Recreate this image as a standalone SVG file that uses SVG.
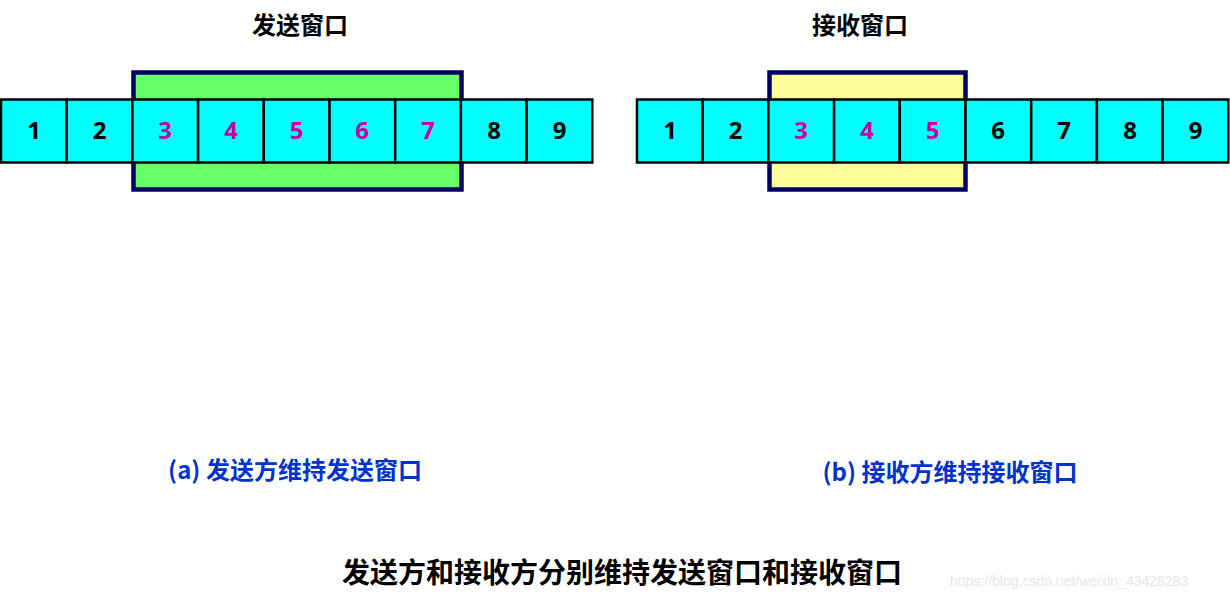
<svg xmlns="http://www.w3.org/2000/svg" width="1230" height="599" viewBox="0 0 1230 599">
<style>
.cell{fill:#00ffff;stroke:#000;stroke-width:2.5}
.win{stroke:#000066;stroke-width:4.5}
.n{font-family:"Open Sans","Noto Sans",sans-serif;font-weight:bold;font-size:24px;text-anchor:middle}
.k{fill:#000}.m{fill:#cc0099}
.t{font-family:"Noto Sans CJK SC",sans-serif;font-weight:bold;text-anchor:middle}
</style>
<rect width="1230" height="599" fill="#fff"/>
<g id="sendWindow"><rect class="win" x="133.5" y="72.5" width="328" height="117" fill="#66ff66"/></g>
<g id="recvWindow"><rect class="win" x="769.5" y="72.5" width="196" height="117" fill="#ffff99"/></g>
<g id="sendCells">
<rect class="cell" x="1" y="99.5" width="65.7" height="63"/>
<rect class="cell" x="66.7" y="99.5" width="65.7" height="63"/>
<rect class="cell" x="132.4" y="99.5" width="65.7" height="63"/>
<rect class="cell" x="198.1" y="99.5" width="65.7" height="63"/>
<rect class="cell" x="263.8" y="99.5" width="65.7" height="63"/>
<rect class="cell" x="329.5" y="99.5" width="65.7" height="63"/>
<rect class="cell" x="395.2" y="99.5" width="65.7" height="63"/>
<rect class="cell" x="460.9" y="99.5" width="65.7" height="63"/>
<rect class="cell" x="526.6" y="99.5" width="65.7" height="63"/>
<text class="n k" x="34" y="139">1</text>
<text class="n k" x="99.5" y="139">2</text>
<text class="n m" x="165" y="139">3</text>
<text class="n m" x="231" y="139">4</text>
<text class="n m" x="296.5" y="139">5</text>
<text class="n m" x="362" y="139">6</text>
<text class="n m" x="428" y="139">7</text>
<text class="n k" x="494" y="139">8</text>
<text class="n k" x="559.5" y="139">9</text>
</g>
<g id="recvCells">
<rect class="cell" x="637" y="99.5" width="65.7" height="63"/>
<rect class="cell" x="702.7" y="99.5" width="65.7" height="63"/>
<rect class="cell" x="768.4" y="99.5" width="65.7" height="63"/>
<rect class="cell" x="834.1" y="99.5" width="65.7" height="63"/>
<rect class="cell" x="899.8" y="99.5" width="65.7" height="63"/>
<rect class="cell" x="965.5" y="99.5" width="65.7" height="63"/>
<rect class="cell" x="1031.2" y="99.5" width="65.7" height="63"/>
<rect class="cell" x="1096.9" y="99.5" width="65.7" height="63"/>
<rect class="cell" x="1162.6" y="99.5" width="65.7" height="63"/>
<text class="n k" x="670" y="139">1</text>
<text class="n k" x="735.5" y="139">2</text>
<text class="n m" x="801" y="139">3</text>
<text class="n m" x="867" y="139">4</text>
<text class="n m" x="932.5" y="139">5</text>
<text class="n k" x="998" y="139">6</text>
<text class="n k" x="1064" y="139">7</text>
<text class="n k" x="1130" y="139">8</text>
<text class="n k" x="1195.5" y="139">9</text>
</g>
<g id="labels">
<text class="t" x="300" y="34" font-size="24" fill="#000">发送窗口</text>
<text class="t" x="860" y="34" font-size="24" fill="#000">接收窗口</text>
<text class="t" x="295" y="479" font-size="24" fill="#0033cc">(a) 发送方维持发送窗口</text>
<text class="t" x="950" y="481" font-size="24" fill="#0033cc">(b) 接收方维持接收窗口</text>
<text class="t" x="622" y="583" font-size="28" fill="#000">发送方和接收方分别维持发送窗口和接收窗口</text>
<text x="950" y="586" font-family="Liberation Sans,sans-serif" font-size="14" fill="#e6e6e6">https://blog.csdn.net/weixin_43428283</text>
</g>
</svg>
